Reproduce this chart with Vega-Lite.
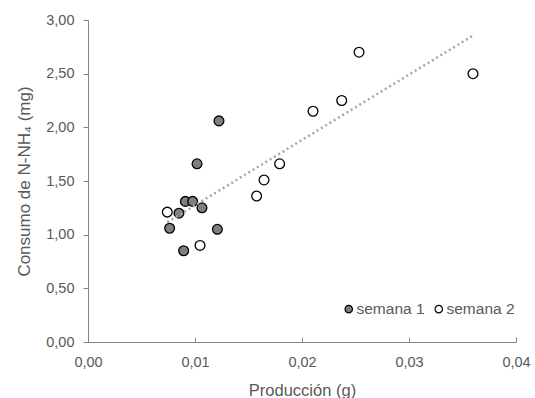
{
  "$schema": "https://vega.github.io/schema/vega-lite/v6.json",
  "width": 428,
  "height": 322,
  "autosize": {"type": "none"},
  "padding": {"left": 88, "top": 20, "right": 19, "bottom": 56},
  "background": "white",
  "config": {
    "view": {"stroke": null},
    "font": "Liberation Sans",
    "axis": {
      "grid": false,
      "domainColor": "#868686",
      "tickColor": "#868686",
      "labelColor": "#595959",
      "titleColor": "#595959",
      "labelFontSize": 14.5,
      "titleFontWeight": "normal",
      "labelFont": "Liberation Sans",
      "titleFont": "Liberation Sans",
      "labelFlush": false
    },
    "legend": {"labelFont": "Liberation Sans", "labelFontSize": 15.5, "labelColor": "#595959"}
  },
  "data": {
    "values": [
      {"x": 0.01224, "y": 2.06, "semana": "semana 1"},
      {"x": 0.01019, "y": 1.66, "semana": "semana 1"},
      {"x": 0.00910, "y": 1.31, "semana": "semana 1"},
      {"x": 0.00978, "y": 1.31, "semana": "semana 1"},
      {"x": 0.01065, "y": 1.25, "semana": "semana 1"},
      {"x": 0.00850, "y": 1.20, "semana": "semana 1"},
      {"x": 0.00763, "y": 1.06, "semana": "semana 1"},
      {"x": 0.01209, "y": 1.05, "semana": "semana 1"},
      {"x": 0.00894, "y": 0.85, "semana": "semana 1"},
      {"x": 0.00741, "y": 1.21, "semana": "semana 2"},
      {"x": 0.01047, "y": 0.90, "semana": "semana 2"},
      {"x": 0.01576, "y": 1.36, "semana": "semana 2"},
      {"x": 0.01645, "y": 1.51, "semana": "semana 2"},
      {"x": 0.01791, "y": 1.66, "semana": "semana 2"},
      {"x": 0.02103, "y": 2.15, "semana": "semana 2"},
      {"x": 0.02371, "y": 2.25, "semana": "semana 2"},
      {"x": 0.02533, "y": 2.70, "semana": "semana 2"},
      {"x": 0.03598, "y": 2.50, "semana": "semana 2"}
    ]
  },
  "layer": [
    {
      "mark": {"type": "point", "filled": false, "stroke": "black", "strokeWidth": 1.3, "size": 95, "opacity": 1, "shape": "circle"},
      "encoding": {
        "x": {
          "field": "x", "type": "quantitative",
          "scale": {"domain": [0, 0.04], "nice": false},
          "axis": {"values": [0, 0.01, 0.02, 0.03, 0.04], "format": ".2f", "labelExpr": "replace(datum.label, '.', ',')", "tickSize": -5, "title": "Producción (g)", "titleFontSize": 16.5, "titlePadding": 14, "labelPadding": 18}
        },
        "y": {
          "field": "y", "type": "quantitative",
          "scale": {"domain": [0, 3], "nice": false},
          "axis": {"values": [0, 0.5, 1, 1.5, 2, 2.5, 3], "format": ".2f", "labelExpr": "replace(datum.label, '.', ',')", "tickSize": 5, "labelPadding": 9, "title": "Consumo de N-NH₄ (mg)", "titleFontSize": 17, "titlePadding": 12}
        },
        "fill": {
          "field": "semana", "type": "nominal",
          "scale": {"domain": ["semana 1", "semana 2"], "range": ["#7f7f7f", "white"]},
          "legend": {
            "title": null, "orient": "none", "direction": "horizontal",
            "legendX": 253, "legendY": 281,
            "symbolType": "circle", "symbolSize": 55, "symbolStrokeColor": "black", "symbolStrokeWidth": 1.2,
            "symbolOpacity": 1, "labelOffset": 0, "columnPadding": 6
          }
        }
      }
    },
    {
      "transform": [{"regression": "y", "on": "x"}],
      "mark": {"type": "line", "color": "#a6a6a6", "strokeWidth": 2.5, "strokeDash": [2, 3]},
      "encoding": {
        "x": {"field": "x", "type": "quantitative"},
        "y": {"field": "y", "type": "quantitative"}
      }
    }
  ]
}
